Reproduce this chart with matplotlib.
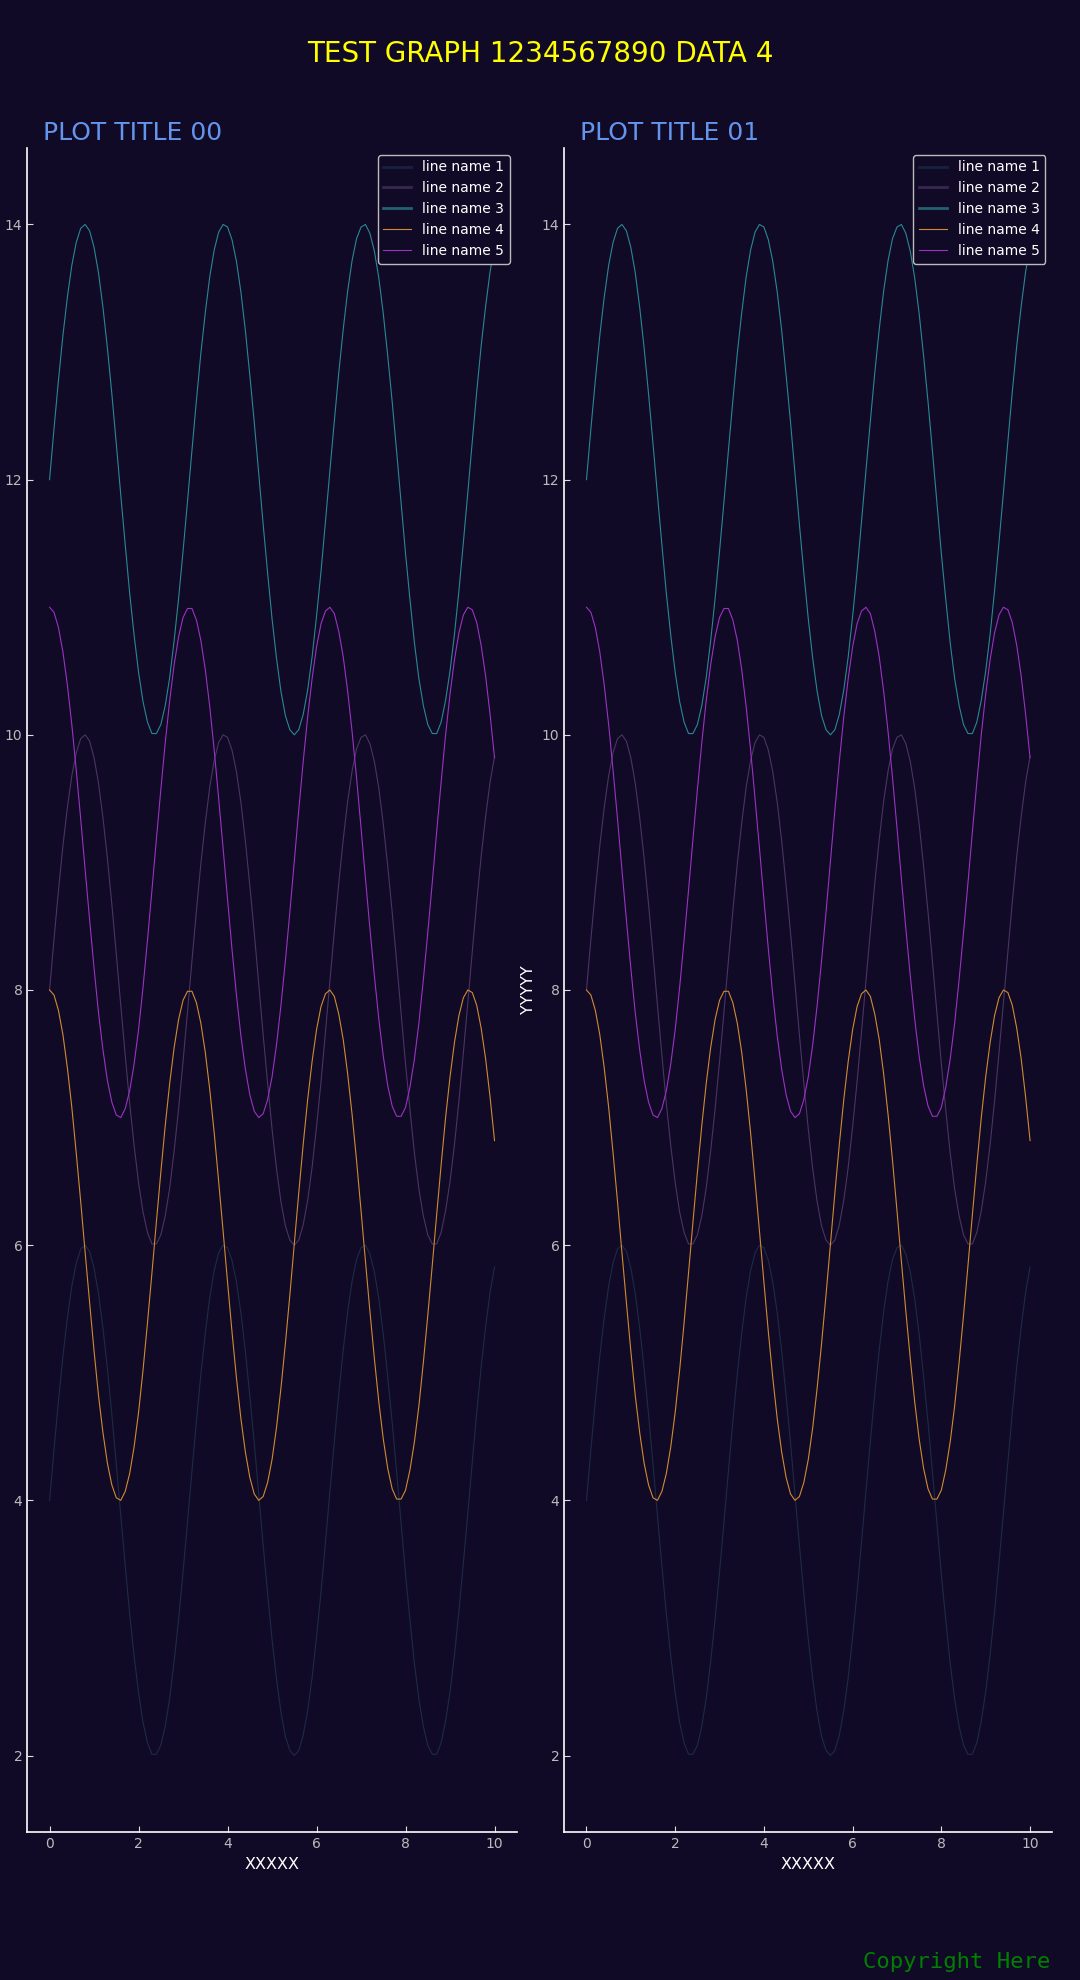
import numpy as np
import matplotlib
matplotlib.use('Agg')
import matplotlib.pyplot as plt

# chart data (same data in both panels)
LINE_NAMES = ['line name 1', 'line name 2', 'line name 3', 'line name 4', 'line name 5']
PLOT_TITLES = ['PLOT TITLE 00', 'PLOT TITLE 01']

LINE_1 = [4.00, 4.40, 4.78, 5.13, 5.43, 5.68, 5.86, 5.97, 6.00, 5.95,
          5.82, 5.62, 5.35, 5.03, 4.67, 4.28, 3.88, 3.49, 3.11, 2.78,
          2.49, 2.26, 2.10, 2.01, 2.01, 2.08, 2.23, 2.45, 2.74, 3.07,
          3.44, 3.83, 4.23, 4.62, 4.99, 5.31, 5.59, 5.80, 5.94, 6.00,
          5.98, 5.88, 5.71, 5.47, 5.17, 4.82, 4.45, 4.05, 3.65, 3.27,
          2.91, 2.60, 2.34, 2.15, 2.04, 2.00, 2.04, 2.16, 2.35, 2.61,
          2.93, 3.28, 3.67, 4.07, 4.46, 4.84, 5.18, 5.48, 5.72, 5.89,
          5.98, 6.00, 5.93, 5.79, 5.58, 5.30, 4.97, 4.61, 4.22, 3.82,
          3.42, 3.06, 2.72, 2.44, 2.23, 2.08, 2.01, 2.01, 2.10, 2.27,
          2.50, 2.79, 3.13, 3.51, 3.90, 4.30, 4.69, 5.05, 5.36, 5.63,
          5.83]

LINE_2 = [8.00, 8.40, 8.78, 9.13, 9.43, 9.68, 9.86, 9.97, 10.00, 9.95,
          9.82, 9.62, 9.35, 9.03, 8.67, 8.28, 7.88, 7.49, 7.11, 6.78,
          6.49, 6.26, 6.10, 6.01, 6.01, 6.08, 6.23, 6.45, 6.74, 7.07,
          7.44, 7.83, 8.23, 8.62, 8.99, 9.31, 9.59, 9.80, 9.94, 10.00,
          9.98, 9.88, 9.71, 9.47, 9.17, 8.82, 8.45, 8.05, 7.65, 7.27,
          6.91, 6.60, 6.34, 6.15, 6.04, 6.00, 6.04, 6.16, 6.35, 6.61,
          6.93, 7.28, 7.67, 8.07, 8.46, 8.84, 9.18, 9.48, 9.72, 9.89,
          9.98, 10.00, 9.93, 9.79, 9.58, 9.30, 8.97, 8.61, 8.22, 7.82,
          7.42, 7.06, 6.72, 6.44, 6.23, 6.08, 6.01, 6.01, 6.10, 6.27,
          6.50, 6.79, 7.13, 7.51, 7.90, 8.30, 8.69, 9.05, 9.36, 9.63,
          9.83]

LINE_3 = [12.00, 12.40, 12.78, 13.13, 13.43, 13.68, 13.86, 13.97, 14.00, 13.95,
          13.82, 13.62, 13.35, 13.03, 12.67, 12.28, 11.88, 11.49, 11.11, 10.78,
          10.49, 10.26, 10.10, 10.01, 10.01, 10.08, 10.23, 10.45, 10.74, 11.07,
          11.44, 11.83, 12.23, 12.62, 12.99, 13.31, 13.59, 13.80, 13.94, 14.00,
          13.98, 13.88, 13.71, 13.47, 13.17, 12.82, 12.45, 12.05, 11.65, 11.27,
          10.91, 10.60, 10.34, 10.15, 10.04, 10.00, 10.04, 10.16, 10.35, 10.61,
          10.93, 11.28, 11.67, 12.07, 12.46, 12.84, 13.18, 13.48, 13.72, 13.89,
          13.98, 14.00, 13.93, 13.79, 13.58, 13.30, 12.97, 12.61, 12.22, 11.82,
          11.42, 11.06, 10.72, 10.44, 10.23, 10.08, 10.01, 10.01, 10.10, 10.27,
          10.50, 10.79, 11.13, 11.51, 11.90, 12.30, 12.69, 13.05, 13.36, 13.63,
          13.83]

LINE_4 = [8.00, 7.96, 7.84, 7.65, 7.39, 7.08, 6.72, 6.34, 5.94, 5.55,
          5.17, 4.82, 4.53, 4.29, 4.12, 4.02, 4.00, 4.07, 4.21, 4.42,
          4.69, 5.02, 5.39, 5.78, 6.18, 6.57, 6.94, 7.27, 7.55, 7.77,
          7.92, 7.99, 7.99, 7.90, 7.74, 7.51, 7.22, 6.88, 6.50, 6.11,
          5.71, 5.32, 4.96, 4.64, 4.38, 4.18, 4.05, 4.00, 4.03, 4.14,
          4.32, 4.57, 4.88, 5.23, 5.61, 6.01, 6.41, 6.79, 7.14, 7.44,
          7.69, 7.87, 7.97, 8.00, 7.95, 7.81, 7.61, 7.34, 7.02, 6.66,
          6.27, 5.87, 5.48, 5.11, 4.77, 4.48, 4.25, 4.09, 4.01, 4.01,
          4.08, 4.24, 4.46, 4.74, 5.08, 5.45, 5.84, 6.24, 6.63, 7.00,
          7.32, 7.59, 7.80, 7.94, 8.00, 7.98, 7.88, 7.70, 7.46, 7.16,
          6.82]

LINE_5 = [11.00, 10.96, 10.84, 10.65, 10.39, 10.08, 9.72, 9.34, 8.94, 8.55,
          8.17, 7.82, 7.53, 7.29, 7.12, 7.02, 7.00, 7.07, 7.21, 7.42,
          7.69, 8.02, 8.39, 8.78, 9.18, 9.57, 9.94, 10.27, 10.55, 10.77,
          10.92, 10.99, 10.99, 10.90, 10.74, 10.51, 10.22, 9.88, 9.50, 9.11,
          8.71, 8.32, 7.96, 7.64, 7.38, 7.18, 7.05, 7.00, 7.03, 7.14,
          7.32, 7.57, 7.88, 8.23, 8.61, 9.01, 9.41, 9.79, 10.14, 10.44,
          10.69, 10.87, 10.97, 11.00, 10.95, 10.81, 10.61, 10.34, 10.02, 9.66,
          9.27, 8.87, 8.48, 8.11, 7.77, 7.48, 7.25, 7.09, 7.01, 7.01,
          7.08, 7.24, 7.46, 7.74, 8.08, 8.45, 8.84, 9.24, 9.63, 10.00,
          10.32, 10.59, 10.80, 10.94, 11.00, 10.98, 10.88, 10.70, 10.46, 10.16,
          9.82]

# x runs 0..10, one sample every 0.1
X = np.linspace(0, 10, len(LINE_1))

BG = '#100a26'
COLORS = ['#1c2b48', '#4a3462', '#2a8792', '#d08a32', '#9a32c2']


def draw_panel(ax, title, show_ylabel):
    ax.set_facecolor(BG)
    series = [LINE_1, LINE_2, LINE_3, LINE_4, LINE_5]
    for vals, name, col in zip(series, LINE_NAMES, COLORS):
        ax.plot(X, vals, color=col, lw=0.8, label=name)

    ax.set_title(title, loc='left', x=0.033, fontsize=18, color='#6495ED')
    ax.set_xlabel('XXXXX', color='white', fontsize=11.5)
    if show_ylabel:
        ax.set_ylabel('YYYYY', color='white', fontsize=11.5)

    ax.set_yticks([2, 4, 6, 8, 10, 12, 14])
    ax.set_xticks([0, 2, 4, 6, 8, 10])
    ax.tick_params(direction='in', length=4, color='#dddddd',
                   labelcolor='#bbbbbb', labelsize=10)
    for s in ['top', 'right']:
        ax.spines[s].set_visible(False)
    for s in ['left', 'bottom']:
        ax.spines[s].set_color('white')
        ax.spines[s].set_linewidth(1.2)

    leg = ax.legend(loc='upper right', fontsize=10, facecolor=BG,
                    edgecolor='#bbbbbb', labelcolor='white', framealpha=1)
    for ln in leg.get_lines()[:3]:
        ln.set_linewidth(2.0)
        ln.set_alpha(0.7)


fig = plt.figure(figsize=(10.8, 19.8), dpi=100, facecolor=BG)
ax1 = fig.add_axes([0.0253, 0.0747, 0.4532, 0.8506])
ax2 = fig.add_axes([0.5225, 0.0747, 0.4518, 0.8506])

draw_panel(ax1, PLOT_TITLES[0], False)
draw_panel(ax2, PLOT_TITLES[1], True)

fig.text(0.5, 1 - 54 / 1980, 'TEST GRAPH 1234567890 DATA 4', ha='center', va='center',
         fontsize=20, color='yellow')
fig.text(0.972, 0.004, 'Copyright Here', ha='right', va='bottom',
         fontsize=16, color='green', family='DejaVu Sans Mono')

fig.savefig('out.png', dpi=100, facecolor=BG)
